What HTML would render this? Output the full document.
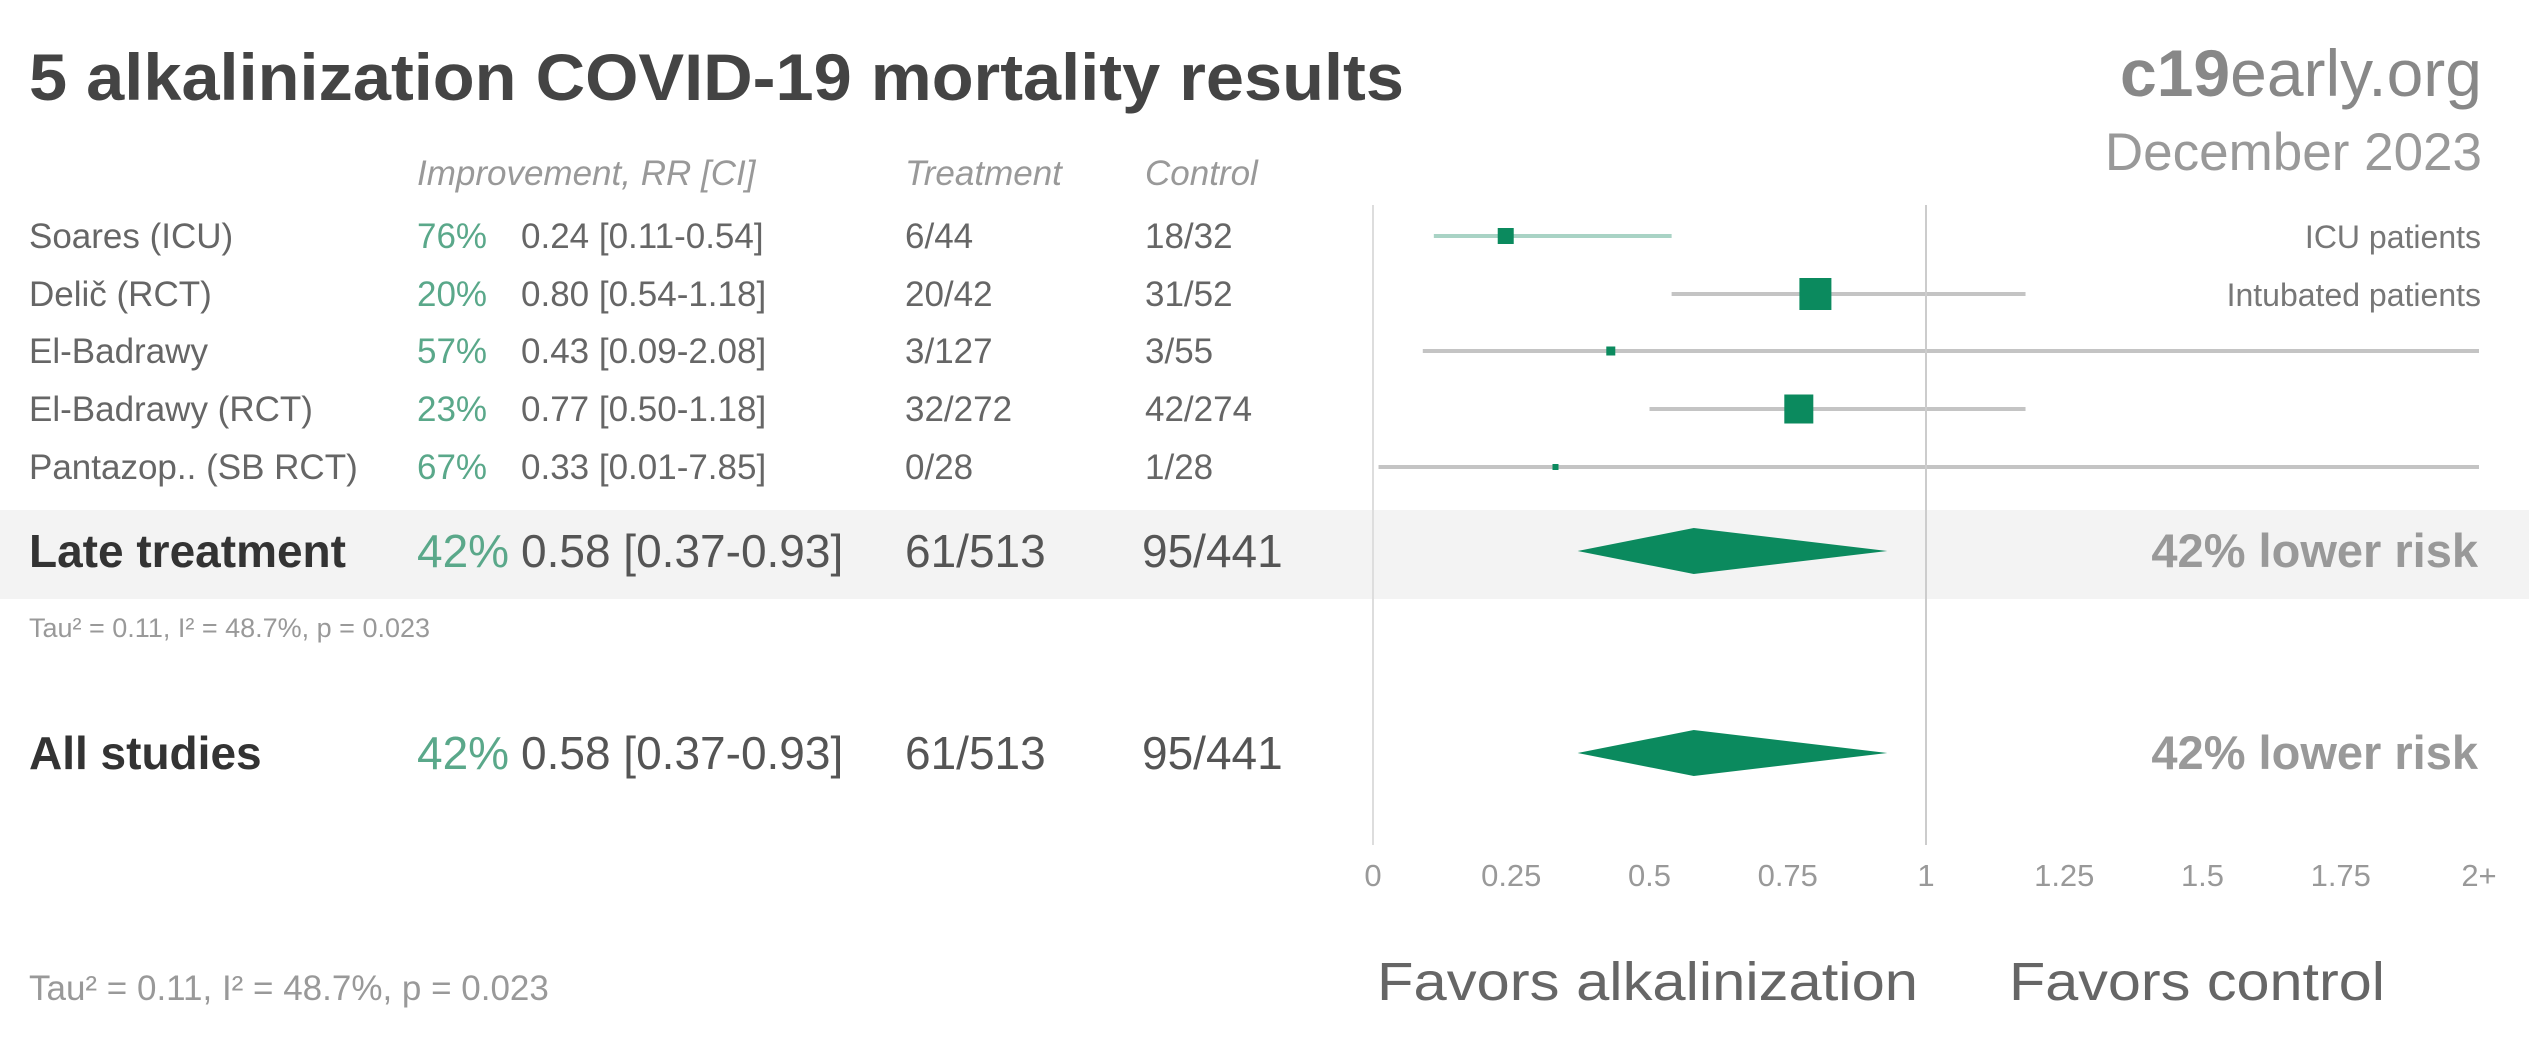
<!DOCTYPE html>
<html><head><meta charset="utf-8"><style>
html,body{margin:0;padding:0;background:#fff;}
svg{display:block;font-family:"Liberation Sans",sans-serif;}
</style></head><body>
<svg id="chart" width="2529" height="1040" viewBox="0 0 2529 1040" xmlns="http://www.w3.org/2000/svg">
<rect width="2529" height="1040" fill="#fff"/>
<rect x="0" y="510" width="2529" height="89" fill="#f3f3f3"/>
<text x="29" y="100" font-size="66" font-weight="bold" fill="#444" textLength="1375" lengthAdjust="spacingAndGlyphs">5 alkalinization COVID-19 mortality results</text>
<text x="2482" y="96" font-size="66" fill="#888" text-anchor="end"><tspan font-weight="bold">c19</tspan>early.org</text>
<text x="2482" y="170" font-size="53" fill="#999" text-anchor="end">December 2023</text>
<g font-size="35" font-style="italic" fill="#999">
<text x="417" y="185">Improvement, RR [CI]</text>
<text x="905" y="185">Treatment</text>
<text x="1145" y="185">Control</text>
</g>
<g id="rows"></g>
<g id="axis"></g>
<text x="29" y="637" font-size="27" fill="#999">Tau² = 0.11, I² = 48.7%, p = 0.023</text>
<text x="29" y="1000" font-size="35" fill="#999">Tau² = 0.11, I² = 48.7%, p = 0.023</text>
<text x="1377" y="1000" font-size="54" fill="#666" textLength="541" lengthAdjust="spacingAndGlyphs">Favors alkalinization</text>
<text x="2009" y="1000" font-size="54" fill="#666" textLength="376" lengthAdjust="spacingAndGlyphs">Favors control</text>
</svg>
<script>
const studies = ["Soares (ICU)","Delič (RCT)","El-Badrawy","El-Badrawy (RCT)","Pantazop.. (SB RCT)"];
const improvements = ["76%","20%","57%","23%","67%"];
const rr = [0.24,0.80,0.43,0.77,0.33];
const ciLow = [0.11,0.54,0.09,0.50,0.01];
const ciHigh = [0.54,1.18,2.08,1.18,7.85];
const treatment = ["6/44","20/42","3/127","32/272","0/28"];
const control = ["18/32","31/52","3/55","42/274","1/28"];
const weights = [16,32,9,29,6];
const notes = ["ICU patients","Intubated patients","","",""];
const summaryLabels = ["Late treatment","All studies"];
const summaryRR = [0.58,0.58];
const summaryLow = [0.37,0.37];
const summaryHigh = [0.93,0.93];
const summaryPct = ["42%","42%"];
const summaryTreat = ["61/513","61/513"];
const summaryCtrl = ["95/441","95/441"];
const tickValues = [0,0.25,0.5,0.75,1,1.25,1.5,1.75,2];
const tickLabels = ["0","0.25","0.5","0.75","1","1.25","1.5","1.75","2+"];

const NS="http://www.w3.org/2000/svg";
const X0=1373, XU=553;
function xs(v){return X0+Math.min(v,2)*XU;}
const rowY=[236,294,351,409,467];
const sumY=[551,753];
function mk(tag,attrs,parent,txt){const e=document.createElementNS(NS,tag);for(const k in attrs)e.setAttribute(k,attrs[k]);if(txt!==undefined)e.textContent=txt;parent.appendChild(e);return e;}
const rows=document.getElementById('rows');
const axis=document.getElementById('axis');

let l=mk('line',{x1:xs(0),x2:xs(0),y1:205,y2:845,stroke:'#ddd','stroke-width':2},axis);


l=mk('line',{x1:xs(1),x2:xs(1),y1:205,y2:845,stroke:'#ccc','stroke-width':2},axis);


tickValues.forEach((v,i)=>{
  const t=mk('text',{x:xs(v),y:886,'font-size':31,fill:'#999','text-anchor':'middle'},axis,tickLabels[i]);
  
  
});

studies.forEach((s,i)=>{
  const y=rowY[i];
  const g=mk('g',{},rows);
  
  
  const ty=y+12;
  mk('text',{x:29,y:ty,'font-size':35,fill:'#666'},g,s);
  mk('text',{x:417,y:ty,'font-size':35,fill:'#5aa88a'},g,improvements[i]);
  mk('text',{x:521,y:ty,'font-size':35,fill:'#666'},g,rr[i].toFixed(2)+" ["+ciLow[i].toFixed(2)+"-"+ciHigh[i].toFixed(2)+"]");
  mk('text',{x:905,y:ty,'font-size':35,fill:'#666'},g,treatment[i]);
  mk('text',{x:1145,y:ty,'font-size':35,fill:'#666'},g,control[i]);
  if(notes[i]) mk('text',{x:2481,y:ty,'font-size':32,fill:'#777','text-anchor':'end'},g,notes[i]);
  const ci=mk('line',{x1:xs(ciLow[i]),x2:xs(ciHigh[i]),y1:y,y2:y,stroke:i===0?'#a9d3c5':'#c4c4c4','stroke-width':4},g);
  
  
  const w=weights[i];
  const sq=mk('rect',{x:xs(rr[i])-w/2,y:y-w/2,width:w,height:w,fill:'#0b8a5e'},g);
  
  
});

summaryLabels.forEach((s,i)=>{
  const y=sumY[i];
  const g=mk('g',{},rows);
  
  
  const ty=y+16;
  mk('text',{x:29,y:ty,'font-size':46,'font-weight':'bold',fill:'#333'},g,s);
  mk('text',{x:417,y:ty,'font-size':46,fill:'#5aa88a'},g,summaryPct[i]);
  mk('text',{x:521,y:ty,'font-size':46,fill:'#555'},g,summaryRR[i].toFixed(2)+" ["+summaryLow[i].toFixed(2)+"-"+summaryHigh[i].toFixed(2)+"]");
  mk('text',{x:905,y:ty,'font-size':46,fill:'#555'},g,summaryTreat[i]);
  mk('text',{x:1142,y:ty,'font-size':46,fill:'#555'},g,summaryCtrl[i]);
  mk('text',{x:2478,y:ty,'font-size':47,'font-weight':'bold',fill:'#999','text-anchor':'end'},g,summaryPct[i]+" lower risk");
  const h=23;
  const d=mk('polygon',{points:`${xs(summaryLow[i])},${y} ${xs(summaryRR[i])},${y-h} ${xs(summaryHigh[i])},${y} ${xs(summaryRR[i])},${y+h}`,fill:'#0b8a5e'},g);
  
  
});
</script>
</body></html>
